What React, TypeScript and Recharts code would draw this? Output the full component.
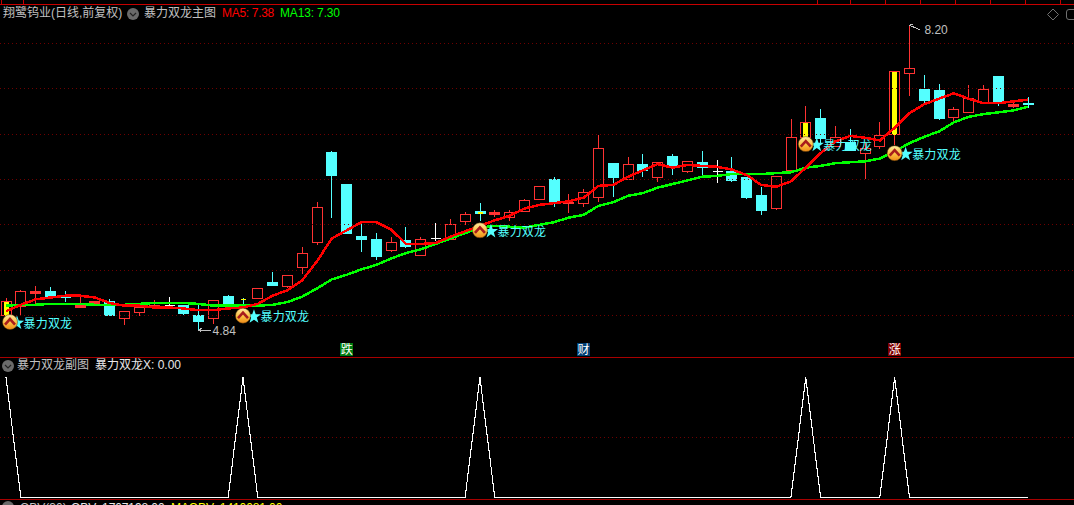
import { ComposedChart, Bar, Line, Scatter, XAxis, YAxis, ReferenceLine } from 'recharts'

const opens = [5.01, 5.11, 5.25, 5.27, 5.22, 5.10, 5.14, 5.16, 4.97, 5.04, 5.10, 5.12, 5.12, 5.01, 4.97, 5.22, 5.20, 5.19, 5.37, 5.33, 5.54, 5.81, 6.80, 6.45, 5.88, 5.85, 5.72, 5.83, 5.67, 5.86, 5.85, 6.04, 6.15, 6.12, 6.09, 6.15, 6.28, 6.50, 6.24, 6.24, 6.31, 6.68, 6.50, 6.67, 6.53, 6.76, 6.59, 6.69, 6.59, 6.59, 6.53, 6.33, 6.19, 6.61, 6.97, 7.18, 6.87, 6.91, 6.79, 6.87, 7.00, 7.67, 7.50, 7.49, 7.19, 7.24, 7.35, 7.64, 7.31, 7.34]
const highs = [5.20, 5.28, 5.33, 5.32, 5.27, 5.21, 5.16, 5.18, 5.05, 5.10, 5.17, 5.21, 5.12, 5.14, 5.17, 5.23, 5.20, 5.30, 5.48, 5.45, 5.76, 6.25, 6.81, 6.45, 6.02, 5.91, 5.87, 5.98, 5.87, 6.02, 6.06, 6.14, 6.24, 6.16, 6.16, 6.28, 6.43, 6.53, 6.34, 6.40, 6.99, 6.68, 6.75, 6.78, 6.69, 6.78, 6.70, 6.81, 6.72, 6.75, 6.53, 6.42, 6.54, 7.17, 7.31, 7.28, 7.09, 7.06, 6.91, 7.13, 7.70, 8.20, 7.65, 7.55, 7.30, 7.54, 7.54, 7.64, 7.35, 7.41]
const lows = [5.01, 5.01, 5.12, 5.21, 5.15, 5.10, 5.12, 5.01, 4.90, 5.00, 5.10, 5.10, 5.01, 4.84, 4.91, 5.12, 5.12, 5.19, 5.34, 5.30, 5.46, 5.78, 6.08, 5.91, 5.70, 5.61, 5.70, 5.75, 5.66, 5.82, 5.85, 6.00, 6.04, 6.09, 6.04, 6.15, 6.28, 6.20, 6.13, 6.20, 6.25, 6.31, 6.50, 6.53, 6.47, 6.55, 6.57, 6.55, 6.46, 6.47, 6.29, 6.11, 6.16, 6.57, 6.93, 6.90, 6.87, 6.82, 6.50, 6.84, 6.88, 7.42, 7.34, 7.16, 7.13, 7.24, 7.35, 7.31, 7.29, 7.29]
const closes = [5.16, 5.27, 5.27, 5.22, 5.21, 5.12, 5.16, 5.01, 5.05, 5.10, 5.12, 5.12, 5.03, 4.94, 5.17, 5.13, 5.19, 5.30, 5.34, 5.45, 5.69, 6.20, 6.55, 5.91, 5.85, 5.66, 5.81, 5.77, 5.85, 5.86, 6.01, 6.12, 6.13, 6.14, 6.14, 6.27, 6.43, 6.24, 6.25, 6.36, 6.85, 6.53, 6.67, 6.60, 6.69, 6.64, 6.70, 6.64, 6.59, 6.49, 6.31, 6.16, 6.54, 6.97, 7.13, 6.96, 6.97, 6.82, 6.85, 6.99, 7.70, 7.73, 7.38, 7.18, 7.28, 7.40, 7.50, 7.35, 7.33, 7.33]
const ma5 = [5.05, 5.12, 5.18, 5.20, 5.22, 5.22, 5.20, 5.14, 5.11, 5.11, 5.09, 5.09, 5.08, 5.06, 5.06, 5.08, 5.09, 5.13, 5.22, 5.28, 5.39, 5.60, 5.85, 5.94, 6.03, 6.03, 5.95, 5.79, 5.79, 5.80, 5.87, 5.93, 5.99, 6.05, 6.10, 6.18, 6.22, 6.24, 6.26, 6.30, 6.43, 6.44, 6.53, 6.60, 6.67, 6.63, 6.66, 6.65, 6.64, 6.61, 6.55, 6.44, 6.42, 6.48, 6.63, 6.79, 6.92, 6.98, 6.96, 6.93, 7.07, 7.23, 7.33, 7.39, 7.45, 7.39, 7.34, 7.34, 7.36, 7.38]
const ma13 = [5.11, 5.12, 5.12, 5.13, 5.13, 5.13, 5.12, 5.12, 5.12, 5.13, 5.14, 5.14, 5.14, 5.13, 5.11, 5.11, 5.11, 5.11, 5.12, 5.15, 5.21, 5.30, 5.40, 5.45, 5.51, 5.56, 5.63, 5.69, 5.73, 5.79, 5.85, 5.91, 5.97, 5.99, 5.98, 5.97, 6.00, 6.03, 6.08, 6.11, 6.21, 6.25, 6.32, 6.35, 6.41, 6.45, 6.49, 6.53, 6.54, 6.56, 6.56, 6.56, 6.57, 6.58, 6.63, 6.65, 6.68, 6.69, 6.70, 6.73, 6.81, 6.90, 6.97, 7.03, 7.13, 7.19, 7.22, 7.24, 7.26, 7.30]
const signalDays = [0, 16, 32, 54, 60]
const signalPrices = [4.93, 5.0, 5.94, 6.89, 6.79]
const gridPrices = [8, 7.5, 7, 6.5, 6, 5.5, 5]
const extremeDays = [13, 61]
const extremePrices = [4.84, 8.2]
const eventDays = [23, 39, 60]
const eventNames = ['跌', '财', '涨']
const eventColors = ['#007a10', '#003f74', '#800000']
const topTicks = [1, 23, 817, 850, 885, 920, 955, 990, 1025, 1060]

const WIDTH = 1074
const RED = '#ff3232'
const CYAN = '#54ffff'
const GRID = '#6e0000'
const FONT = '"Liberation Sans", "Noto Sans CJK SC", sans-serif'
const X_DOMAIN = [-0.405, 72.11]

const candles = opens.map((open, i) => ({
  day: i,
  open,
  high: highs[i],
  low: lows[i],
  close: closes[i],
  ma5: ma5[i],
  ma13: ma13[i],
  signal: signalDays.includes(i) ? 1 : 0,
}))
const signals = signalDays.map((day, i) => ({ day, price: signalPrices[i] }))
const extremes = extremeDays.map((day, i) => ({ day, price: extremePrices[i] }))
// the event tags sit in a row just above the sub chart
const events = eventDays.map((day, i) => ({ day, price: 4.63, name: eventNames[i], color: eventColors[i] }))

function Candle(props: any) {
  const { x, y, width, height, payload } = props
  const { open, high, low, close, signal } = payload
  const k = height / (high - low)
  const cx = Math.floor(x + width / 2) + 0.5
  const top = Math.round(y + (high - Math.max(open, close)) * k) + 0.5
  const bottom = Math.round(y + (high - Math.min(open, close)) * k) + 0.5
  const yHigh = Math.round(y)
  const yLow = Math.round(y + height)
  const flat = open === close
  const color = flat ? '#ffffff' : close > open ? RED : CYAN
  const solid = close < open || bottom - top < 3
  return (
    <g>
      <line x1={cx} x2={cx} y1={yHigh} y2={top} stroke={color} />
      <line x1={cx} x2={cx} y1={bottom} y2={yLow} stroke={color} />
      {flat ? (
        <line x1={cx - 5} x2={cx + 5} y1={top} y2={top} stroke={color} />
      ) : (
        <rect x={cx - 5} y={top} width={10} height={bottom - top} fill={solid ? color : '#000'} stroke={color} />
      )}
      {signal === 1 && <rect x={cx - 2.5} y={top} width={5} height={Math.max(bottom - top, 1.5)} fill="#ffff00" />}
    </g>
  )
}

function SignalMark(props: any) {
  const { cx, cy } = props
  const c = Math.max(cx, 10)
  const star = [0, 1, 2, 3, 4, 5, 6, 7, 8, 9]
    .map((n) => {
      const r = n % 2 === 0 ? 7.5 : 3
      const a = -Math.PI / 2 + (n * Math.PI) / 5
      return `${cx + 11 + r * Math.cos(a)},${cy + 1 + r * Math.sin(a)}`
    })
    .join(' ')
  return (
    <g>
      <g style={{ shapeRendering: 'geometricPrecision' }}>
        <polygon points={star} fill={CYAN} />
        <circle cx={c} cy={cy} r={7.5} fill="url(#coin)" stroke="#5a3a08" strokeWidth={0.5} />
        <polyline points={`${c - 5},${cy + 2.5} ${c},${cy - 3} ${c + 5},${cy + 2.5}`} fill="none" stroke="#a81c1c" strokeWidth={2.6} />
      </g>
      <text x={cx + 17.5} y={cy + 5.5} fill={CYAN} fontSize={12} letterSpacing={0.2} fontFamily={FONT}>
        暴力双龙
      </text>
    </g>
  )
}

function ExtremeLabel(props: any) {
  const { cx, cy, payload } = props
  const isLow = payload.day === extremeDays[0]
  const text = payload.price.toFixed(2)
  return (
    <g stroke="none">
      {isLow ? (
        <polyline points={`${cx + 3},${cy - 2} ${cx},${cy} ${cx + 3},${cy + 2} ${cx},${cy} ${cx + 12},${cy}`} fill="none" stroke="#c0c0c0" />
      ) : (
        <polyline points={`${cx + 3},${cy + 2} ${cx},${cy} ${cx + 3},${cy - 1} ${cx},${cy} ${cx + 11},${cy + 5}`} fill="none" stroke="#c0c0c0" />
      )}
      <text x={cx + (isLow ? 14 : 15)} y={cy + (isLow ? 5 : 9)} fill="#c0c0c0" fontSize={12} fontFamily={FONT}>
        {text}
      </text>
    </g>
  )
}

function EventTag(props: any) {
  const { cx, cy, payload } = props
  return (
    <g>
      <rect x={cx - 6.5} y={cy - 6.5} width={13} height={13} fill={payload.color} />
      <text x={cx} y={cy + 4.5} fill="#fff" fontSize={12} textAnchor="middle" fontFamily={FONT}>
        {payload.name}
      </text>
    </g>
  )
}

function Label({ x, y, color, spacing = 0, children }: { x: number; y: number; color: string; spacing?: number; children: string }) {
  return (
    <span
      style={{
        position: 'absolute',
        left: x,
        top: y,
        color,
        fontSize: 12,
        lineHeight: '14px',
        letterSpacing: spacing,
        whiteSpace: 'nowrap',
        fontFamily: FONT,
      }}
    >
      {children}
    </span>
  )
}

function Rule({ y, color = '#a80000' }: { y: number; color?: string }) {
  return <div style={{ position: 'absolute', left: 0, top: y, width: WIDTH, height: 1, background: color }} />
}

function Toggle({ cx, cy }: { cx: number; cy: number }) {
  return (
    <g>
      <circle cx={cx} cy={cy} r={6} fill="#6a6a6a" />
      <polyline points={`${cx - 3},${cy - 1} ${cx},${cy + 2} ${cx + 3},${cy - 1}`} fill="none" stroke="#222" strokeWidth={1.2} />
    </g>
  )
}

export default function App() {
  return (
    <div
      style={{
        position: 'relative',
        width: WIDTH,
        height: 505,
        background: '#000',
        overflow: 'hidden',
        shapeRendering: 'crispEdges',
      }}
    >
      <style>{'body{margin:0;background:#000}'}</style>

      <div style={{ position: 'absolute', left: 0, top: 0 }}>
        <ComposedChart width={WIDTH} height={357} data={candles} margin={{ top: 0, right: 0, bottom: 0, left: 0 }}>
          <defs>
            <linearGradient id="coin" x1="0" y1="0" x2="0" y2="1">
              <stop offset="0%" stopColor="#ffe9a0" />
              <stop offset="55%" stopColor="#fbc040" />
              <stop offset="100%" stopColor="#ef8a18" />
            </linearGradient>
          </defs>
          <XAxis dataKey="day" type="number" domain={X_DOMAIN} allowDataOverflow hide />
          <YAxis type="number" domain={[4.545, 8.477]} allowDataOverflow hide />
          {gridPrices.map((p) => (
            <ReferenceLine key={p} y={p} stroke={GRID} strokeDasharray="1 3" />
          ))}
          <Bar dataKey={(d: any) => [d.low, d.high]} barSize={11} shape={<Candle />} isAnimationActive={false} />
          <Line dataKey="ma13" stroke="#00ff00" strokeWidth={2.5} dot={false} isAnimationActive={false} />
          <Line dataKey="ma5" stroke="#ff0000" strokeWidth={2.5} dot={false} isAnimationActive={false} />
          <Scatter data={signals} dataKey="price" shape={<SignalMark />} isAnimationActive={false} />
          <Scatter data={extremes} dataKey="price" shape={<ExtremeLabel />} isAnimationActive={false} />
          <Scatter data={events} dataKey="price" shape={<EventTag />} isAnimationActive={false} />
        </ComposedChart>
      </div>

      <div style={{ position: 'absolute', left: 0, top: 357 }}>
        <ComposedChart width={WIDTH} height={142} data={candles} margin={{ top: 0, right: 0, bottom: 0, left: 0 }}>
          <XAxis dataKey="day" type="number" domain={X_DOMAIN} allowDataOverflow hide />
          <YAxis type="number" domain={[-0.014, 1.169]} allowDataOverflow hide />
          <ReferenceLine y={0.5} stroke={GRID} strokeDasharray="1 3" />
          <Line dataKey="signal" stroke="#ffffff" strokeWidth={1.1} dot={false} isAnimationActive={false} />
        </ComposedChart>
      </div>

      <Rule y={4} color="#c80000" />
      <Rule y={357} />
      <Rule y={499} />
      {topTicks.map((x) => (
        <div key={x} style={{ position: 'absolute', left: x, top: 0, width: 1, height: 4, background: '#c80000' }} />
      ))}

      <svg width={WIDTH} height={505} style={{ position: 'absolute', left: 0, top: 0, shapeRendering: 'geometricPrecision' }}>
        <Toggle cx={133} cy={14} />
        <Toggle cx={8} cy={366} />
        <Toggle cx={8} cy={507} />
        <polygon points="1053,9 1058.5,14.5 1053,20 1047.5,14.5" fill="none" stroke="#707070" />
        <path d="M1074,9.5 H1069 Q1066.5,9.5 1066.5,12 V17 Q1066.5,19.5 1069,19.5 H1074" fill="none" stroke="#707070" />
      </svg>

      <Label x={3} y={6} color="#c0c0c0">翔鹭钨业(日线,前复权)</Label>
      <Label x={144} y={6} color="#c0c0c0">暴力双龙主图</Label>
      <Label x={222} y={6} color="#ff0000" spacing={-0.3}>MA5: 7.38</Label>
      <Label x={280} y={6} color="#00ff00" spacing={-0.15}>MA13: 7.30</Label>
      <Label x={17} y={358} color="#c0c0c0">暴力双龙副图</Label>
      <Label x={95} y={358} color="#e8e8e8">暴力双龙X: 0.00</Label>
      <Label x={20} y={501} color="#c0c0c0">OBV(30)</Label>
      <Label x={71} y={501} color="#e8e8e8" spacing={-0.1}>OBV: 1707198.00</Label>
      <Label x={171} y={501} color="#ffff00" spacing={-0.1}>MAOBV: 1410081.00</Label>
    </div>
  )
}
